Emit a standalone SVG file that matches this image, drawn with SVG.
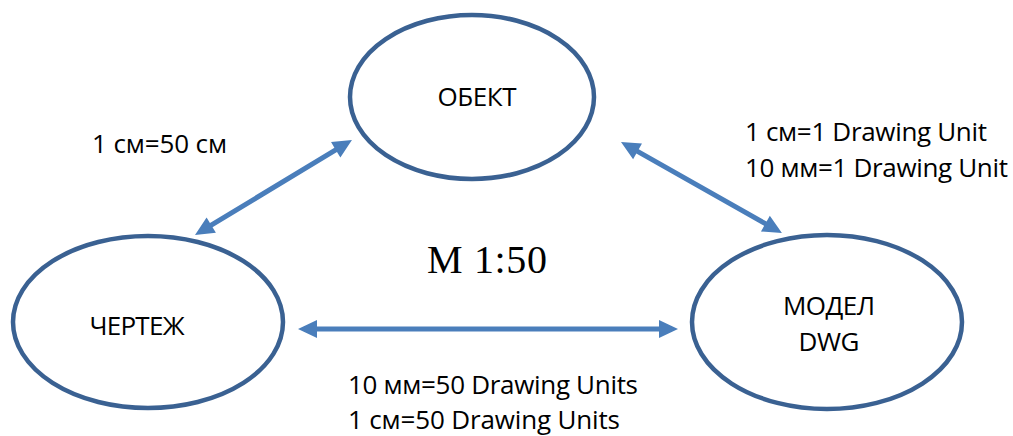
<svg xmlns="http://www.w3.org/2000/svg" width="1013" height="436" viewBox="0 0 1013 436">
<style>
.node ellipse{fill:#fff;stroke:#3A6192;stroke-width:4.5}
.arr{fill:#4A7EBB}
.t{font-family:"Open Sans","Noto Sans","Liberation Sans",sans-serif;font-size:26px;fill:#000}
.big{font-family:"Liberation Serif","Times New Roman",serif;font-size:40px;fill:#000}
</style>
<rect width="1013" height="436" fill="#fff"/>
<g id="connectors">
<path class="arr" transform="translate(298,329)" d="M0,0 L19,-9 L19,-2.5 L361,-2.5 L361,-9 L380,0 L361,9 L361,2.5 L19,2.5 L19,9 Z"/>
<path class="arr" transform="translate(195,235) rotate(-31.2)" d="M0,0 L19,-9 L19,-2.5 L164.5,-2.5 L164.5,-9 L183.5,0 L164.5,9 L164.5,2.5 L19,2.5 L19,9 Z"/>
<path class="arr" transform="translate(621,142) rotate(29.5)" d="M0,0 L19,-9 L19,-2.5 L165.9,-2.5 L165.9,-9 L184.9,0 L165.9,9 L165.9,2.5 L19,2.5 L19,9 Z"/>
</g>
<g id="obekt" class="node">
<ellipse cx="472" cy="97" rx="122" ry="82"/>
<text class="t" x="477" y="106" text-anchor="middle" textLength="79">ОБЕКТ</text>
</g>
<g id="chertezh" class="node">
<ellipse cx="148" cy="322" rx="135" ry="86"/>
<text class="t" x="137" y="335" text-anchor="middle" textLength="95">ЧЕРТЕЖ</text>
</g>
<g id="model" class="node">
<ellipse cx="827" cy="322" rx="135" ry="87"/>
<text class="t" x="829" y="315" text-anchor="middle" textLength="92">МОДЕЛ</text>
<text class="t" x="829" y="351" text-anchor="middle" textLength="61">DWG</text>
</g>
<g id="labels">
<text class="t" x="92" y="153" textLength="135">1 см=50 см</text>
<text class="t" x="745" y="141" textLength="242">1 см=1 Drawing Unit</text>
<text class="t" x="745" y="177" textLength="263">10 мм=1 Drawing Unit</text>
<text class="big" x="427" y="273" textLength="120">М 1:50</text>
<text class="t" x="348" y="394" textLength="290">10 мм=50 Drawing Units</text>
<text class="t" x="348" y="429" textLength="272">1 см=50 Drawing Units</text>
</g>
</svg>
